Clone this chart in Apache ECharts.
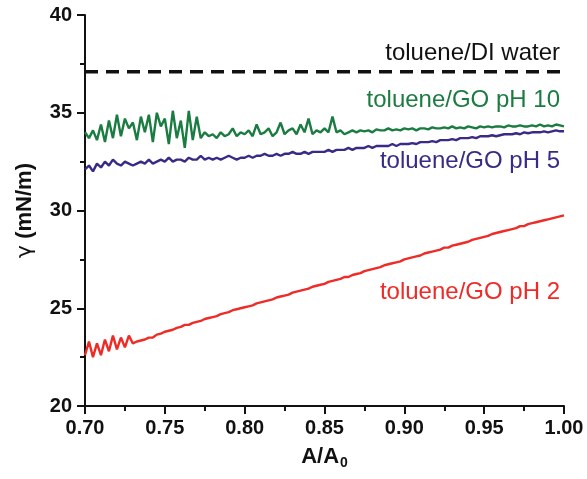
<!DOCTYPE html>
<html>
<head>
<meta charset="utf-8">
<script src="https://cdn.jsdelivr.net/npm/echarts@6/dist/echarts.min.js"></script>
<style>
  html, body { margin: 0; padding: 0; background: #fff; }
  #box { width: 587px; height: 479px; }
</style>
</head>
<body>
<div id="box"></div>
<script>
// A/A0 sampling points
const areaRatio = [
  0.7000, 0.7025, 0.7050, 0.7075, 0.7100, 0.7125, 0.7150, 0.7175, 0.7200, 0.7225,
  0.7250, 0.7275, 0.7300, 0.7325, 0.7350, 0.7375, 0.7400, 0.7425, 0.7450, 0.7475,
  0.7500, 0.7525, 0.7550, 0.7575, 0.7600, 0.7625, 0.7650, 0.7675, 0.7700, 0.7725,
  0.7750, 0.7775, 0.7800, 0.7825, 0.7850, 0.7875, 0.7900, 0.7925, 0.7950, 0.7975,
  0.8000, 0.8025, 0.8050, 0.8075, 0.8100, 0.8125, 0.8150, 0.8175, 0.8200, 0.8225,
  0.8250, 0.8275, 0.8300, 0.8325, 0.8350, 0.8375, 0.8400, 0.8425, 0.8450, 0.8475,
  0.8500, 0.8525, 0.8550, 0.8575, 0.8600, 0.8625, 0.8650, 0.8675, 0.8700, 0.8725,
  0.8750, 0.8775, 0.8800, 0.8825, 0.8850, 0.8875, 0.8900, 0.8925, 0.8950, 0.8975,
  0.9000, 0.9025, 0.9050, 0.9075, 0.9100, 0.9125, 0.9150, 0.9175, 0.9200, 0.9225,
  0.9250, 0.9275, 0.9300, 0.9325, 0.9350, 0.9375, 0.9400, 0.9425, 0.9450, 0.9475,
  0.9500, 0.9525, 0.9550, 0.9575, 0.9600, 0.9625, 0.9650, 0.9675, 0.9700, 0.9725,
  0.9750, 0.9775, 0.9800, 0.9825, 0.9850, 0.9875, 0.9900, 0.9925, 0.9950, 0.9975,
  1.0000
]

// surface tension (mN/m)
const goPH10 = [
  34.0, 33.7, 34.1, 33.6, 34.4, 33.5, 34.6, 33.7, 34.9, 33.8,
  34.7, 34.2, 34.5, 33.6, 34.8, 34.0, 34.9, 33.5, 35.0, 34.3,
  34.7, 33.4, 35.1, 33.7, 34.6, 33.2, 35.1, 33.6, 34.8, 33.7,
  34.0, 33.8, 33.9, 33.7, 34.0, 33.8, 33.9, 34.2, 33.8, 34.0,
  33.9, 34.1, 33.8, 34.4, 33.9, 34.0, 34.2, 33.8, 34.0, 34.5,
  33.9, 34.1, 34.2, 33.9, 34.4, 34.0, 34.7, 33.9, 34.1, 34.0,
  34.2, 34.0, 34.8, 34.0, 34.1, 33.9, 34.0, 34.1, 34.0, 34.1,
  34.05, 34.1, 34.0, 34.15, 34.1, 34.1, 34.2, 34.1, 34.15, 34.1,
  34.2, 34.15, 34.2, 34.1, 34.2, 34.2, 34.15, 34.25, 34.2, 34.2,
  34.25, 34.2, 34.3, 34.2, 34.25, 34.2, 34.3, 34.25, 34.2, 34.3,
  34.25, 34.3, 34.25, 34.3, 34.3, 34.25, 34.35, 34.3, 34.3, 34.35,
  34.3, 34.3, 34.35, 34.3, 34.4, 34.3, 34.35, 34.3, 34.4, 34.35,
  34.3
]

const goPH5 = [
  32.1, 32.3, 32.0, 32.4, 32.2, 32.5, 32.3, 32.6, 32.4, 32.3,
  32.5, 32.4, 32.3, 32.4, 32.5, 32.4, 32.6, 32.4, 32.5, 32.6,
  32.5, 32.7, 32.5, 32.6, 32.6, 32.5, 32.7, 32.6, 32.6, 32.8,
  32.6, 32.7, 32.6, 32.7, 32.6, 32.7, 32.8, 32.7, 32.6, 32.7,
  32.7, 32.8, 32.7, 32.8, 32.8, 32.9, 32.8, 32.8, 32.9, 32.8,
  32.9, 32.9, 33.0, 32.9, 32.9, 33.0, 32.9, 33.0, 33.0, 33.0,
  33.0, 33.1, 33.0, 33.1, 33.1, 33.1, 33.2, 33.1, 33.2, 33.2,
  33.2, 33.3, 33.2, 33.3, 33.3, 33.3, 33.3, 33.4, 33.3, 33.4,
  33.4, 33.4, 33.45, 33.4, 33.5, 33.5, 33.5, 33.55, 33.5, 33.6,
  33.6, 33.6, 33.65, 33.6, 33.7, 33.7, 33.7, 33.75, 33.7, 33.8,
  33.8, 33.8, 33.85, 33.8, 33.85, 33.9, 33.9, 33.9, 33.95, 33.9,
  34.0, 33.95, 34.0, 34.0, 34.0, 34.05, 34.0, 34.05, 34.1, 34.05,
  34.05
]

const goPH2 = [
  22.6, 23.3, 22.5, 23.2, 22.6, 23.4, 22.8, 23.6, 22.9, 23.5,
  23.0, 23.6, 23.2, 23.3, 23.35, 23.4, 23.5, 23.5, 23.65, 23.7,
  23.8, 23.85, 23.9, 24.0, 24.05, 24.15, 24.15, 24.25, 24.3, 24.35,
  24.45, 24.5, 24.55, 24.6, 24.7, 24.75, 24.8, 24.9, 24.95, 25.0,
  25.05, 25.1, 25.15, 25.25, 25.3, 25.35, 25.4, 25.45, 25.55, 25.6,
  25.65, 25.7, 25.8, 25.85, 25.9, 25.95, 26.0, 26.1, 26.15, 26.2,
  26.25, 26.35, 26.4, 26.45, 26.5, 26.6, 26.6, 26.7, 26.75, 26.8,
  26.9, 26.95, 27.0, 27.05, 27.1, 27.2, 27.25, 27.3, 27.35, 27.4,
  27.5, 27.55, 27.6, 27.65, 27.7, 27.8, 27.85, 27.9, 27.95, 28.0,
  28.1, 28.1, 28.2, 28.25, 28.3, 28.35, 28.4, 28.5, 28.55, 28.6,
  28.65, 28.7, 28.8, 28.85, 28.9, 28.95, 29.0, 29.05, 29.1, 29.2,
  29.2, 29.3, 29.35, 29.4, 29.45, 29.5, 29.55, 29.6, 29.65, 29.7,
  29.75
]

// toluene / DI water reference level
const waterX = [0.70, 1.00]
const waterY = [37.1, 37.1]

const seriesNames = ['toluene/DI water', 'toluene/GO pH 10', 'toluene/GO pH 5', 'toluene/GO pH 2']
const seriesColors = ['#111111', '#1b7c42', '#3a2a86', '#ee2b26']

const pairs = (xs, ys) => xs.map((x, i) => [x, ys[i]])

const chart = echarts.init(document.getElementById('box'))

const tickFont = {
  fontFamily: 'Liberation Sans, Arial, sans-serif',
  fontWeight: 'bold',
  fontSize: 20,
  color: '#111'
}
const axisLine = { lineStyle: { color: '#111', width: 2 } }
const labelFont = '24px Liberation Sans, Arial, sans-serif'

const options = {
  animation: false,
  backgroundColor: '#fff',
  grid: { left: 85, right: 23, top: 15, bottom: 73 },
  xAxis: {
    type: 'value',
    min: 0.70,
    max: 1.00,
    interval: 0.05,
    axisLine: axisLine,
    axisTick: { inside: false, length: 8, lineStyle: { color: '#111', width: 2 } },
    minorTick: { show: true, splitNumber: 2, length: 5, lineStyle: { color: '#111', width: 2 } },
    splitLine: { show: false },
    axisLabel: { ...tickFont, margin: 12, formatter: v => v.toFixed(2) },
    name: 'A/A{sub|0}',
    nameLocation: 'middle',
    nameGap: 38,
    nameTextStyle: {
      fontFamily: 'Liberation Sans, Arial, sans-serif',
      fontWeight: 'bold',
      fontSize: 22,
      color: '#111',
      rich: {
        sub: {
          fontFamily: 'Liberation Sans, Arial, sans-serif',
          fontWeight: 'bold',
          fontSize: 14,
          color: '#111',
          verticalAlign: 'bottom',
          padding: [12, 0, 0, 1]
        }
      }
    }
  },
  yAxis: {
    type: 'value',
    min: 20,
    max: 40,
    interval: 5,
    axisLine: { show: true, ...axisLine },
    axisTick: { show: true, inside: false, length: 8, lineStyle: { color: '#111', width: 2 } },
    minorTick: { show: true, splitNumber: 2, length: 5, lineStyle: { color: '#111', width: 2 } },
    splitLine: { show: false },
    axisLabel: { ...tickFont, margin: 13 },
    name: '{g|γ} (mN/m)',
    nameLocation: 'middle',
    nameGap: 49,
    nameTextStyle: {
      fontFamily: 'Liberation Sans, Arial, sans-serif',
      fontWeight: 'bold',
      fontSize: 22,
      color: '#111',
      rich: {
        g: {
          fontFamily: 'DejaVu Sans, sans-serif',
          fontWeight: 'normal',
          fontSize: 22,
          color: '#111'
        }
      }
    }
  },
  series: [
    {
      name: seriesNames[0],
      type: 'line',
      data: pairs(waterX, waterY),
      showSymbol: false,
      lineStyle: { color: seriesColors[0], width: 3.5, type: [13, 8] }
    },
    {
      name: seriesNames[1],
      type: 'line',
      data: pairs(areaRatio, goPH10),
      showSymbol: false,
      lineStyle: { color: seriesColors[1], width: 2.4 }
    },
    {
      name: seriesNames[2],
      type: 'line',
      data: pairs(areaRatio, goPH5),
      showSymbol: false,
      lineStyle: { color: seriesColors[2], width: 2.4 }
    },
    {
      name: seriesNames[3],
      type: 'line',
      data: pairs(areaRatio, goPH2),
      showSymbol: false,
      lineStyle: { color: seriesColors[3], width: 2.4 }
    }
  ],
  // curve labels placed beside their lines
  graphic: [
    { type: 'text', right: 27, top: 41, style: { text: seriesNames[0], fill: seriesColors[0], font: labelFont } },
    { type: 'text', right: 27, top: 88, style: { text: seriesNames[1], fill: seriesColors[1], font: labelFont } },
    { type: 'text', right: 27, top: 149, style: { text: seriesNames[2], fill: seriesColors[2], font: labelFont } },
    { type: 'text', right: 27, top: 280, style: { text: seriesNames[3], fill: seriesColors[3], font: labelFont } }
  ]
}

chart.setOption(options)
</script>
</body>
</html>
